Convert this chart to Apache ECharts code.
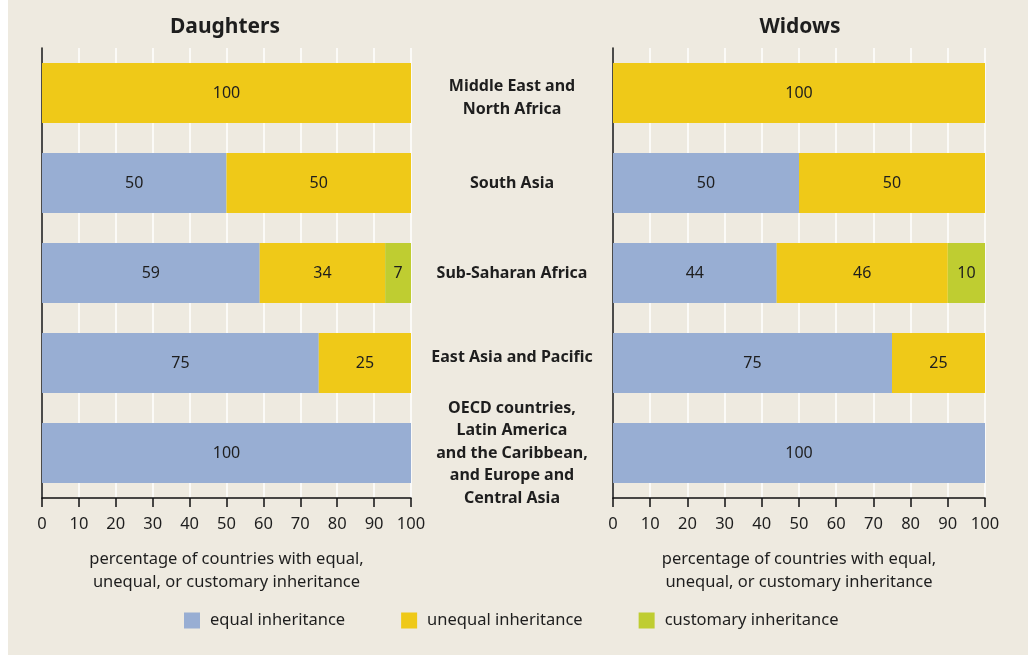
<!DOCTYPE html>
<html>
<head>
<meta charset="UTF-8">
<title>Inheritance rights</title>
<style>
    body { margin:0; padding:0; background:#ffffff; }
    #bg { position:absolute; left:8px; top:0; width:1020px; height:655px; background:#eeeae0; }
    #chart { position:absolute; left:0; top:0; width:1028px; height:665px; }
</style>
</head>
<body>
<div id="bg"></div>
<div id="chart"></div>
<script src="https://cdn.jsdelivr.net/npm/echarts@6/dist/echarts.min.js"></script>
<script>
// regions, top to bottom
var regions = [
    'Middle East and\nNorth Africa',
    'South Asia',
    'Sub-Saharan Africa',
    'East Asia and Pacific',
    'OECD countries,\nLatin America\nand the Caribbean,\nand Europe and\nCentral Asia'
];
var xTicks = [0, 10, 20, 30, 40, 50, 60, 70, 80, 90, 100];

// daughters
var daughtersEqual     = [0, 50, 59, 75, 100];
var daughtersUnequal   = [100, 50, 34, 25, 0];
var daughtersCustomary = [0, 0, 7, 0, 0];

// widows
var widowsEqual     = [0, 50, 44, 75, 100];
var widowsUnequal   = [100, 50, 46, 25, 0];
var widowsCustomary = [0, 0, 10, 0, 0];

var names = ['equal inheritance', 'unequal inheritance', 'customary inheritance'];
var colors = ['#98aed3', '#efc918', '#bfcd31'];
var font = '"Noto Sans", "Open Sans", sans-serif';
var ink = '#1e1e1e';

function xAxis(idx) {
    return {
        gridIndex: idx, type: 'value',
        min: xTicks[0], max: xTicks[xTicks.length - 1], interval: 10,
        axisLine: { show: true, lineStyle: { color: '#111', width: 1.5 } },
        axisTick: { show: true, length: 9, lineStyle: { color: '#111', width: 1.5 } },
        axisLabel: { margin: 18, color: ink, fontSize: 16.5, fontFamily: font },
        splitLine: { show: true, lineStyle: { color: '#ffffff', width: 1.5 } },
        name: 'percentage of countries with equal,\nunequal, or customary inheritance',
        nameLocation: 'middle', nameGap: 50,
        nameTextStyle: { color: ink, fontSize: 16.5, fontFamily: font, lineHeight: 23 }
    };
}

function yAxis(idx, showLabels) {
    return {
        gridIndex: idx, type: 'category', inverse: true, data: regions,
        axisLine: { show: true, lineStyle: { color: '#111', width: 1.5 } },
        axisTick: { show: false },
        axisLabel: {
            show: showLabels, margin: 101, align: 'center',
            color: ink, fontSize: 16, fontWeight: 'bold', fontFamily: font, lineHeight: 22.5,
            formatter: function(v, i) {
                // a few labels sit a little off their bar in the original
                if (i === 0) return '{dn|' + v.split('\n').join('}\n{dn|') + '}';
                if (i === 3) return '{up|' + v + '}';
                return v;
            },
            rich: {
                dn: { fontSize: 16, fontWeight: 'bold', fontFamily: font, color: ink, lineHeight: 22.5, padding: [10, 0, 0, 0] },
                up: { fontSize: 16, fontWeight: 'bold', fontFamily: font, color: ink, lineHeight: 22.5, padding: [0, 0, 12, 0] }
            }
        },
        splitLine: { show: false }
    };
}

function bars(idx, values) {
    return values.map(function(v, i) {
        return {
            name: names[i], type: 'bar', stack: 's' + idx,
            xAxisIndex: idx, yAxisIndex: idx,
            barWidth: 60, data: v,
            itemStyle: { color: colors[i] },
            label: {
                show: true, position: 'inside', color: ink, fontSize: 16, fontFamily: font,
                formatter: function(p) { return p.value ? p.value : ''; }
            },
            emphasis: { disabled: true }
        };
    });
}

var myChart = echarts.init(document.getElementById('chart'));
var option = {
    animation: false,
    title: [
        { text: 'Daughters', left: 220, top: 12, textAlign: 'center',
          textStyle: { fontSize: 21, fontWeight: 'bold', color: ink, fontFamily: font } },
        { text: 'Widows', left: 795, top: 12, textAlign: 'center',
          textStyle: { fontSize: 21, fontWeight: 'bold', color: ink, fontFamily: font } }
    ],
    legend: {
        data: names, left: 179, top: 607,
        itemWidth: 16, itemHeight: 16, itemGap: 56, icon: 'rect',
        textStyle: { color: ink, fontSize: 16.5, fontFamily: font, padding: [0, 0, 0, 5] }
    },
    grid: [
        { left: 42, width: 369, top: 48, height: 450 },
        { left: 613, width: 372, top: 48, height: 450 }
    ],
    xAxis: [xAxis(0), xAxis(1)],
    yAxis: [yAxis(0, false), yAxis(1, true)],
    series: bars(0, [daughtersEqual, daughtersUnequal, daughtersCustomary])
        .concat(bars(1, [widowsEqual, widowsUnequal, widowsCustomary]))
};
myChart.setOption(option);
</script>
</body>
</html>
